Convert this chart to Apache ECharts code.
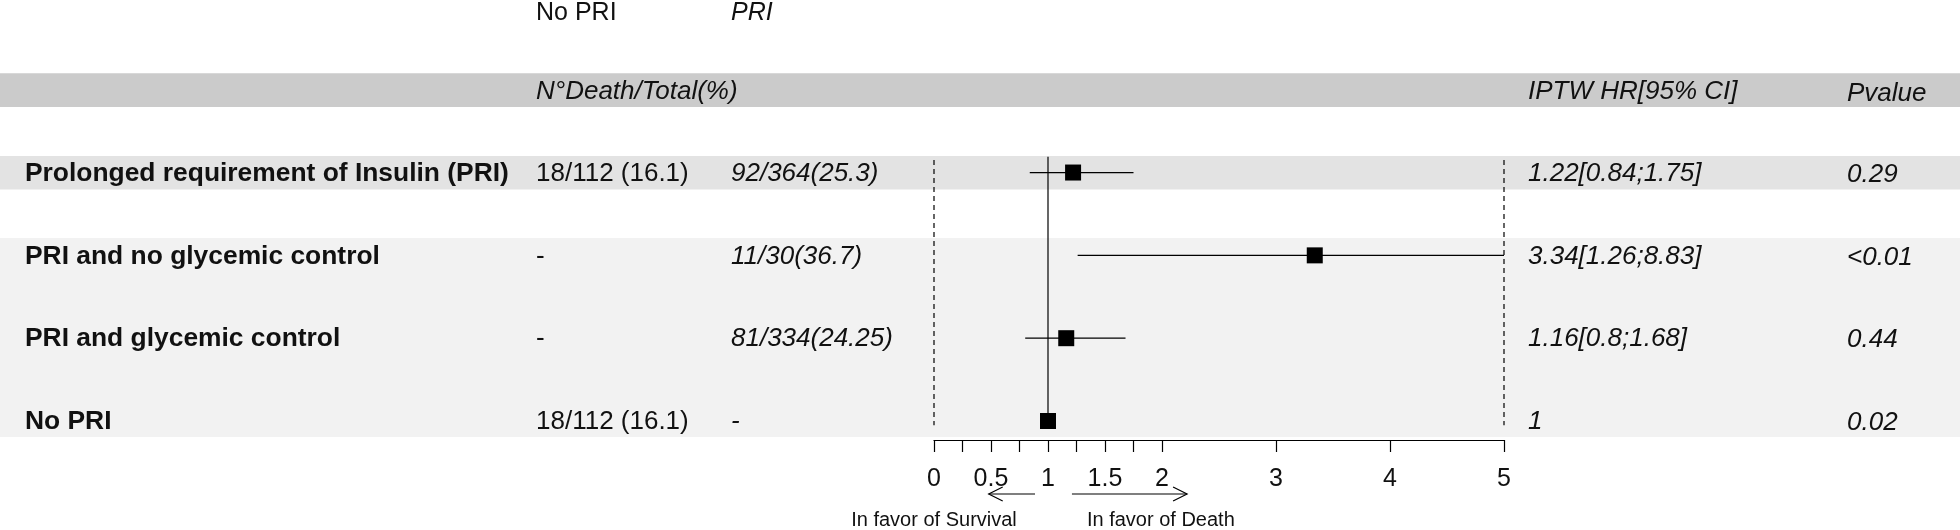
<!DOCTYPE html>
<html>
<head>
<meta charset="utf-8">
<script src="https://cdn.jsdelivr.net/npm/echarts@6/dist/echarts.min.js"></script>
<style>html,body{margin:0;padding:0;background:#fff}#c{width:1960px;height:530px}</style>
</head>
<body>
<div id="c"></div>
<script>
// ---------------- data ----------------
const rowLabels = ['Prolonged requirement of Insulin (PRI)', 'PRI and no glycemic control', 'PRI and glycemic control', 'No PRI'];
const noPriCounts = ['18/112 (16.1)', '-', '-', '18/112 (16.1)'];
const priCounts = ['92/364(25.3)', '11/30(36.7)', '81/334(24.25)', '-'];
const hrLabels = ['1.22[0.84;1.75]', '3.34[1.26;8.83]', '1.16[0.8;1.68]', '1'];
const pValues = ['0.29', '<0.01', '0.44', '0.02'];
const hr = [1.22, 3.34, 1.16, 1];
const ciLow = [0.84, 1.26, 0.8, null];
const ciHigh = [1.75, 8.83, 1.68, null];
const tickValues = [0, 0.25, 0.5, 0.75, 1, 1.25, 1.5, 1.75, 2, 3, 4, 5];
const tickLabelValues = [0, 0.5, 1, 1.5, 2, 3, 4, 5];
const groupHeaders = ['No PRI', 'PRI'];
const columnHeaders = ['N°Death/Total(%)', 'IPTW HR[95% CI]', 'Pvalue'];
const directionLabels = ['In favor of Survival', 'In favor of Death'];

// ---------------- layout ----------------
const FONT = '"Liberation Sans", Arial, sans-serif';
const ROW_PX = 82.83;
const Y_MIN = -1.083;
const W = 1960, H = 530, AXIS_BOTTOM = 90;
const colX = { label: 25, noPri: 536, pri: 731, hr: 1528, pval: 1847 };
const bands = [[-0.2, 0.21, '#cbcbcb'], [0.80, 1.205, '#e3e3e3'], [1.79, 4.193, '#f2f2f2']];
const TXT = '#111';

const chart = echarts.init(document.getElementById('c'), null, { renderer: 'canvas' });

function txt(x, y, text, size, opts) {
  opts = opts || {};
  return {
    type: 'text', x: x, y: y,
    style: {
      text: text, fill: TXT, fontSize: size, fontFamily: FONT,
      fontWeight: opts.bold ? 'bold' : 'normal',
      fontStyle: opts.italic ? 'italic' : 'normal',
      align: opts.align || 'left', verticalAlign: 'middle'
    }
  };
}

const option = {
  animation: false,
  backgroundColor: '#fff',
  grid: [
    { left: 0, right: 0, top: 0, bottom: 0 },
    { left: 934, right: 456, top: 0, bottom: AXIS_BOTTOM }
  ],
  xAxis: [
    { gridIndex: 0, type: 'value', min: 0, max: W, show: false },
    {
      gridIndex: 1, type: 'value', min: 0, max: 5,
      axisLine: { show: true, onZero: false, lineStyle: { color: '#000', width: 1.2 } },
      axisTick: { show: true, customValues: tickValues, length: 12, lineStyle: { color: '#000', width: 1.2 } },
      axisLabel: { customValues: tickLabelValues, fontSize: 25, color: TXT, fontFamily: FONT, margin: 27 },
      splitLine: { show: false }
    }
  ],
  yAxis: [
    { gridIndex: 0, type: 'value', inverse: true, min: Y_MIN, max: Y_MIN + H / ROW_PX, show: false },
    { gridIndex: 1, type: 'value', inverse: true, min: Y_MIN, max: Y_MIN + (H - AXIS_BOTTOM) / ROW_PX, show: false }
  ],
  series: [
    { // background bands
      type: 'custom', xAxisIndex: 0, yAxisIndex: 0, z: 1, silent: true,
      data: bands.map(b => [b[0], b[1]]),
      renderItem: function (params, api) {
        const b = bands[params.dataIndex];
        const p0 = api.coord([0, api.value(0)]);
        const p1 = api.coord([W, api.value(1)]);
        return { type: 'rect', shape: { x: p0[0], y: p0[1], width: p1[0] - p0[0], height: p1[1] - p0[1] }, style: { fill: b[2] } };
      }
    },
    { // headers
      type: 'custom', xAxisIndex: 0, yAxisIndex: 0, z: 5, silent: true,
      data: [[0]],
      renderItem: function (params, api) {
        const yTop = api.coord([0, -0.925])[1];
        const yHead = api.coord([0, 0.03])[1];
        const yHead2 = api.coord([0, 0.05])[1];
        return { type: 'group', children: [
          txt(colX.noPri, yTop, groupHeaders[0], 25),
          txt(colX.pri, yTop, groupHeaders[1], 25, { italic: true }),
          txt(colX.noPri, yHead, columnHeaders[0], 26, { italic: true }),
          txt(colX.hr, yHead, columnHeaders[1], 26, { italic: true }),
          txt(colX.pval, yHead2, columnHeaders[2], 26, { italic: true })
        ] };
      }
    },
    { // table rows
      type: 'custom', xAxisIndex: 0, yAxisIndex: 0, z: 5, silent: true,
      data: rowLabels.map((l, i) => [i + 1]),
      renderItem: function (params, api) {
        const i = params.dataIndex;
        const y = api.coord([0, api.value(0)])[1];
        return { type: 'group', children: [
          txt(colX.label, y + 1, rowLabels[i], 26.4, { bold: true }),
          txt(colX.noPri, y + 1, noPriCounts[i], 26),
          txt(colX.pri, y + 1, priCounts[i], 26, { italic: true }),
          txt(colX.hr, y + 1, hrLabels[i], 26, { italic: true }),
          txt(colX.pval, y + 2, pValues[i], 26, { italic: true })
        ] };
      }
    },
    { // reference lines and direction annotations
      type: 'custom', xAxisIndex: 1, yAxisIndex: 1, z: 6, silent: true, clip: false,
      data: [[0]],
      renderItem: function (params, api) {
        const line = (x0, y0, x1, y1, dash) => {
          const a = api.coord([x0, y0]), b = api.coord([x1, y1]);
          return { type: 'line', shape: { x1: a[0], y1: a[1], x2: b[0], y2: b[1] },
            style: { stroke: '#000', lineWidth: 1.2, lineDash: dash ? [5, 4] : null } };
        };
        const arrow = (from, to, yv) => {
          const a = api.coord([from, yv]), b = api.coord([to, yv]);
          const dir = b[0] > a[0] ? -1 : 1;
          return [
            { type: 'line', shape: { x1: a[0], y1: a[1], x2: b[0], y2: b[1] }, style: { stroke: '#000', lineWidth: 1.2 } },
            { type: 'polyline', shape: { points: [[b[0] + dir * 14, b[1] - 7], [b[0], b[1]], [b[0] + dir * 14, b[1] + 7]] }, style: { stroke: '#000', fill: null, lineWidth: 1.2 } }
          ];
        };
        const yArrow = 4.881, yText = 5.205;
        const s = api.coord([0.0, yText]);
        const d = api.coord([1.99, yText]);
        return { type: 'group', children: [
          line(0, 0.85, 0, 4.05, true),
          line(5, 0.85, 5, 4.05, true),
          line(1, 0.81, 1, 4.0, false),
          ...arrow(0.886, 0.48, yArrow),
          ...arrow(1.21, 2.22, yArrow),
          txt(s[0], s[1], directionLabels[0], 20, { align: 'center' }),
          txt(d[0], d[1], directionLabels[1], 20, { align: 'center' })
        ] };
      }
    },
    { // forest marks
      type: 'custom', xAxisIndex: 1, yAxisIndex: 1, z: 8, silent: true, clip: true,
      data: hr.map((v, i) => [v, ciLow[i] == null ? NaN : ciLow[i], ciHigh[i] == null ? NaN : ciHigh[i], i + 1]),
      encode: { x: [0, 1, 2], y: 3 },
      renderItem: function (params, api) {
        const row = api.value(3);
        const c = api.coord([api.value(0), row]);
        const lo = api.value(1), hi = api.value(2);
        const children = [];
        if (!isNaN(lo) && !isNaN(hi)) {
          const a = api.coord([lo, row]), b = api.coord([hi, row]);
          children.push({ type: 'line', shape: { x1: a[0], y1: a[1], x2: b[0], y2: b[1] }, style: { stroke: '#000', lineWidth: 1.3 } });
        }
        const s = 16;
        children.push({ type: 'rect', shape: { x: c[0] - s / 2, y: c[1] - s / 2, width: s, height: s }, style: { fill: '#000' } });
        return { type: 'group', children: children };
      }
    }
  ]
};
chart.setOption(option);
</script>
</body>
</html>
